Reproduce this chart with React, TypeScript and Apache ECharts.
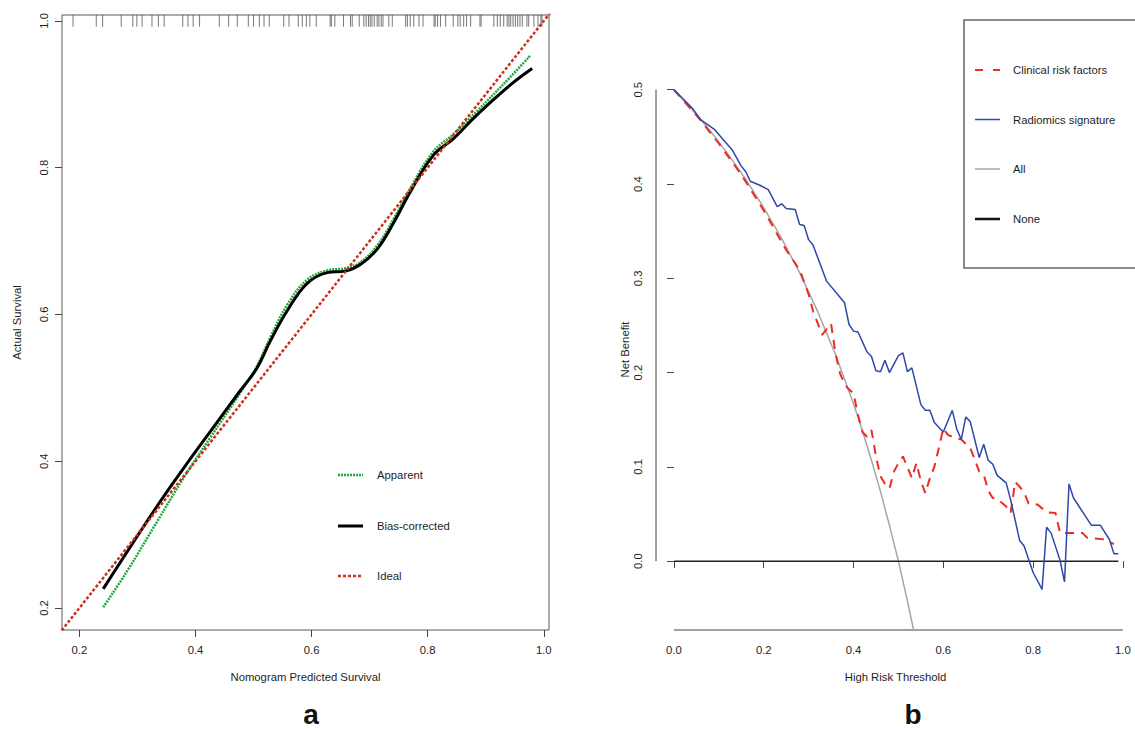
import React, { useEffect, useRef } from "react";
import * as echarts from "echarts";

const FONT = "'Liberation Sans', Arial, Helvetica, sans-serif";
const TXT = "#1e1e1e";

// ---------- Panel a: calibration ----------
const calibTicks = [0.2, 0.4, 0.6, 0.8, 1.0];
const calibMin = 0.17;
const calibMax = 1.009;
const rugPredicted = [
  0.189, 0.229, 0.24, 0.272, 0.292, 0.299, 0.308, 0.325, 0.336, 0.346, 0.378, 0.387, 0.396, 0.407,
  0.441, 0.457, 0.472, 0.491, 0.5, 0.51, 0.518, 0.527, 0.552, 0.561, 0.577, 0.584, 0.591, 0.597,
  0.608, 0.632, 0.634, 0.64, 0.655, 0.667, 0.67, 0.682, 0.69, 0.694, 0.698, 0.701, 0.704, 0.708,
  0.713, 0.716, 0.72, 0.723, 0.733, 0.739, 0.762, 0.765, 0.77, 0.776, 0.785, 0.792, 0.811, 0.813,
  0.817, 0.822, 0.831, 0.844, 0.852, 0.856, 0.862, 0.867, 0.874, 0.89, 0.892, 0.914, 0.92, 0.925,
  0.931, 0.937, 0.94, 0.943, 0.947, 0.951, 0.955, 0.959, 0.963, 0.971, 0.974, 0.983, 0.99, 0.995,
  0.997,
];
const apparentCurve = [
  [0.241, 0.201], [0.282, 0.25], [0.334, 0.318], [0.38, 0.378], [0.426, 0.433], [0.477, 0.493],
  [0.506, 0.53], [0.529, 0.569], [0.558, 0.613], [0.592, 0.647], [0.627, 0.66], [0.658, 0.663],
  [0.684, 0.671], [0.713, 0.694], [0.742, 0.731], [0.77, 0.772], [0.81, 0.822], [0.845, 0.846],
  [0.885, 0.877], [0.943, 0.924], [0.977, 0.953],
];
const biasCorrectedCurve = [
  [0.241, 0.226], [0.334, 0.339], [0.38, 0.391], [0.426, 0.441], [0.477, 0.496], [0.506, 0.527],
  [0.529, 0.564], [0.558, 0.605], [0.592, 0.642], [0.627, 0.657], [0.658, 0.659], [0.684, 0.668],
  [0.713, 0.689], [0.742, 0.726], [0.77, 0.767], [0.81, 0.817], [0.845, 0.84], [0.885, 0.872],
  [0.943, 0.913], [0.98, 0.935],
];
const idealLine = [[0.1, 0.1], [1.1, 1.1]];

// ---------- Panel b: decision curve ----------
const thresholdTicks = [0, 0.2, 0.4, 0.6, 0.8, 1.0];
const netBenefitTicks = [0, 0.1, 0.2, 0.3, 0.4, 0.5];
const thrMin = -0.04;
const thrMax = 1.027;
const nbMin = -0.073;
const nbMax = 0.522;
const clinicalCurve = [
  [0, 0.5], [0.05, 0.473], [0.1, 0.443], [0.15, 0.41], [0.2, 0.372], [0.25, 0.33], [0.28, 0.309],
  [0.3, 0.283], [0.31, 0.265], [0.33, 0.24], [0.35, 0.252], [0.36, 0.22], [0.37, 0.199],
  [0.38, 0.188], [0.39, 0.182], [0.4, 0.178], [0.41, 0.155], [0.42, 0.137], [0.43, 0.132],
  [0.44, 0.139], [0.45, 0.111], [0.46, 0.09], [0.47, 0.082], [0.48, 0.077], [0.49, 0.095],
  [0.5, 0.104], [0.51, 0.111], [0.52, 0.1], [0.53, 0.088], [0.54, 0.104], [0.55, 0.085],
  [0.56, 0.072], [0.57, 0.088], [0.58, 0.1], [0.59, 0.12], [0.6, 0.141], [0.61, 0.134],
  [0.62, 0.132], [0.64, 0.129], [0.66, 0.12], [0.67, 0.108], [0.68, 0.095], [0.69, 0.092],
  [0.7, 0.075], [0.71, 0.067], [0.72, 0.066], [0.74, 0.058], [0.75, 0.051], [0.76, 0.084],
  [0.77, 0.079], [0.78, 0.073], [0.79, 0.061], [0.81, 0.06], [0.83, 0.052], [0.85, 0.051],
  [0.86, 0.03], [0.88, 0.03], [0.91, 0.03], [0.92, 0.025], [0.96, 0.023], [0.98, 0.018],
];
const radiomicsCurve = [
  [0, 0.5], [0.04, 0.481], [0.06, 0.468], [0.09, 0.458], [0.11, 0.447], [0.13, 0.436],
  [0.15, 0.419], [0.16, 0.413], [0.17, 0.403], [0.19, 0.399], [0.21, 0.394], [0.23, 0.376],
  [0.24, 0.379], [0.25, 0.374], [0.27, 0.373], [0.28, 0.357], [0.29, 0.356], [0.3, 0.341],
  [0.31, 0.335], [0.34, 0.297], [0.38, 0.274], [0.39, 0.251], [0.4, 0.244], [0.41, 0.243],
  [0.43, 0.222], [0.44, 0.217], [0.45, 0.202], [0.46, 0.201], [0.47, 0.213], [0.48, 0.2],
  [0.5, 0.218], [0.51, 0.221], [0.52, 0.201], [0.53, 0.205], [0.55, 0.166], [0.56, 0.16],
  [0.57, 0.16], [0.58, 0.147], [0.6, 0.137], [0.62, 0.16], [0.63, 0.14], [0.64, 0.129],
  [0.65, 0.153], [0.66, 0.148], [0.68, 0.11], [0.69, 0.124], [0.7, 0.107], [0.71, 0.103],
  [0.72, 0.091], [0.74, 0.083], [0.75, 0.065], [0.77, 0.022], [0.78, 0.016], [0.8, -0.012],
  [0.82, -0.03], [0.83, 0.036], [0.84, 0.03], [0.86, 0.001], [0.87, -0.022], [0.88, 0.082],
  [0.89, 0.067], [0.93, 0.038], [0.95, 0.038], [0.97, 0.023], [0.98, 0.008], [0.99, 0.008],
];
const treatAllCurve = [
  [0, 0.5], [0.04, 0.479], [0.08, 0.457], [0.12, 0.432], [0.16, 0.405], [0.2, 0.375],
  [0.24, 0.342], [0.28, 0.306], [0.32, 0.265], [0.34, 0.242], [0.36, 0.219], [0.38, 0.193],
  [0.4, 0.167], [0.42, 0.138], [0.44, 0.107], [0.46, 0.074], [0.48, 0.038], [0.5, 0.0],
  [0.52, -0.042], [0.54, -0.087], [0.56, -0.136],
];
const treatNoneCurve = [[0, 0], [0.99, 0]];

const COL_RED = "#ee2b22";
const COL_BLUE = "#2f46ab";
const COL_GRAY = "#a6a6a6";
const COL_GREEN = "#20a83a";
const COL_IDEAL = "#c8321f";

const fmt1 = (v: number) => v.toFixed(1);

function axisCommon(ticks: number[], rotate: number, margin: number) {
  return {
    type: "value",
    splitLine: { show: false },
    axisLine: { show: false },
    axisTick: { show: true, customValues: ticks, length: 7, lineStyle: { color: "#444", width: 1 } },
    axisLabel: {
      customValues: ticks,
      formatter: fmt1,
      rotate,
      margin,
      color: TXT,
      fontSize: 11.3,
      fontFamily: FONT,
    },
    nameTextStyle: { color: TXT, fontSize: 11.3, fontFamily: FONT },
    nameLocation: "middle",
  } as any;
}

export default function App() {
  const ref = useRef<HTMLDivElement>(null);
  useEffect(() => {
    if (!ref.current) return;
    const chart = echarts.init(ref.current, null, { renderer: "svg" });
    const option: any = {
      animation: false,
      backgroundColor: "#ffffff",
      grid: [
        { left: 62, top: 15, width: 487, height: 615, show: true, borderColor: "#5a5a5a", borderWidth: 1 },
        { left: 656, top: 69, right: 0, height: 561 },
      ],
      xAxis: [
        {
          ...axisCommon(calibTicks, 0, 14),
          gridIndex: 0, min: calibMin, max: calibMax,
          name: "Nomogram Predicted Survival", nameGap: 41,
        },
        {
          ...axisCommon(thresholdTicks, 0, 14),
          gridIndex: 1, min: thrMin, max: thrMax,
          name: "High Risk Threshold", nameGap: 41,
        },
      ],
      yAxis: [
        {
          ...axisCommon(calibTicks, 90, 13),
          gridIndex: 0, min: calibMin, max: 1.008,
          name: "Actual Survival", nameGap: 40,
        },
        {
          ...axisCommon(netBenefitTicks, 90, 13),
          gridIndex: 1, min: nbMin, max: nbMax,
          name: "Net Benefit", nameGap: 26,
        },
      ],
      series: [
        {
          type: "scatter", xAxisIndex: 0, yAxisIndex: 0, silent: true,
          data: rugPredicted.map((v) => [v, 1.0]),
          symbol: "rect", symbolSize: [1, 12], itemStyle: { color: "#555" },
        },
        {
          name: "Apparent", type: "line", xAxisIndex: 0, yAxisIndex: 0, data: apparentCurve,
          showSymbol: false, smooth: 0.4, lineStyle: { color: COL_GREEN, width: 2.5, type: [2, 1] },
        },
        {
          name: "Bias-corrected", type: "line", xAxisIndex: 0, yAxisIndex: 0, data: biasCorrectedCurve,
          showSymbol: false, smooth: 0.4, lineStyle: { color: "#000", width: 3 },
        },
        {
          name: "Ideal", type: "line", xAxisIndex: 0, yAxisIndex: 0, data: idealLine,
          showSymbol: false, lineStyle: { color: COL_IDEAL, width: 2.5, type: [3, 2] },
        },
        {
          name: "All", type: "line", xAxisIndex: 1, yAxisIndex: 1, data: treatAllCurve,
          showSymbol: false, lineStyle: { color: COL_GRAY, width: 1.5 },
        },
        {
          name: "None", type: "line", xAxisIndex: 1, yAxisIndex: 1, data: treatNoneCurve,
          showSymbol: false, lineStyle: { color: "#222", width: 1.5 },
        },
        {
          name: "Clinical risk factors", type: "line", xAxisIndex: 1, yAxisIndex: 1, data: clinicalCurve,
          showSymbol: false, lineStyle: { color: COL_RED, width: 2, type: [9, 7] },
        },
        {
          name: "Radiomics signature", type: "line", xAxisIndex: 1, yAxisIndex: 1, data: radiomicsCurve,
          showSymbol: false, lineStyle: { color: COL_BLUE, width: 1.5 },
        },
      ],
    };
    chart.setOption(option);

    const p00 = chart.convertToPixel({ gridIndex: 1 } as any, [0, nbMin]) as number[];
    const p10 = chart.convertToPixel({ gridIndex: 1 } as any, [1, nbMin]) as number[];
    const q0 = chart.convertToPixel({ gridIndex: 1 } as any, [thrMin, 0]) as number[];
    const q5 = chart.convertToPixel({ gridIndex: 1 } as any, [thrMin, 0.5]) as number[];

    const legText = (x: number, y: number, t: string) => ({
      type: "text", x, y,
      style: { text: t, fill: TXT, fontSize: 11.3, fontFamily: FONT, verticalAlign: "middle", align: "left" },
    });
    const legLine = (x: number, y: number, stroke: string, lineWidth: number, lineDash?: number[]) => ({
      type: "line",
      shape: { x1: x, y1: y, x2: x + 25, y2: y },
      style: { stroke, lineWidth, lineDash: lineDash || null },
    });

    chart.setOption({
      graphic: [
        { type: "line", shape: { x1: p00[0], y1: p00[1], x2: p10[0], y2: p10[1] }, style: { stroke: "#444", lineWidth: 1 } },
        { type: "line", shape: { x1: q0[0], y1: q0[1], x2: q5[0], y2: q5[1] }, style: { stroke: "#444", lineWidth: 1 } },
        // legend a
        legLine(338, 475, COL_GREEN, 2.5, [2, 1]),
        legText(377, 475, "Apparent"),
        legLine(338, 526, "#000", 3),
        legText(377, 526, "Bias-corrected"),
        legLine(338, 576, COL_IDEAL, 2.5, [3, 2]),
        legText(377, 576, "Ideal"),
        // legend b
        { type: "rect", shape: { x: 964, y: 20, width: 200, height: 248 }, style: { fill: "none", stroke: "#666", lineWidth: 1.5 } },
        legLine(975, 70, COL_RED, 2, [8, 10]),
        legText(1013, 70, "Clinical risk factors"),
        legLine(975, 119.5, COL_BLUE, 1.5),
        legText(1013, 119.5, "Radiomics signature"),
        legLine(975, 169, COL_GRAY, 1.5),
        legText(1013, 169, "All"),
        legLine(975, 219, "#111", 2.5),
        legText(1013, 219, "None"),
        // panel letters
        { type: "text", x: 311, y: 714, style: { text: "a", fill: "#111", fontSize: 28, fontWeight: "bold", fontFamily: FONT, align: "center", verticalAlign: "middle" } },
        { type: "text", x: 913, y: 714, style: { text: "b", fill: "#111", fontSize: 28, fontWeight: "bold", fontFamily: FONT, align: "center", verticalAlign: "middle" } },
      ],
    });
    return () => chart.dispose();
  }, []);
  return (
    <div
      ref={ref}
      style={{ position: "absolute", left: 0, top: 0, width: 1135, height: 729, background: "#fff" }}
    />
  );
}
